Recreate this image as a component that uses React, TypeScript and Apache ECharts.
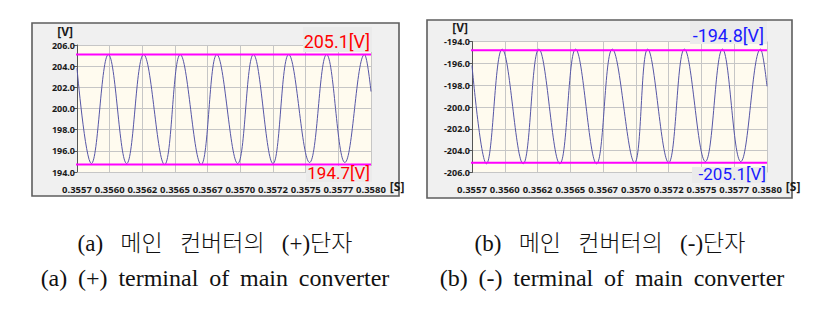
import { useEffect, useRef } from 'react';
import * as echarts from 'echarts';

// ---- data ----
const xTickLabels = ['0.3557', '0.3560', '0.3562', '0.3565', '0.3567', '0.3570', '0.3572', '0.3575', '0.3577', '0.3580'];
const X_MIN = 0.35575;
const X_MAX = 0.358;
const X_STEP = 0.00025;

// (+) terminal waveform: start, alternating troughs / peaks, end
const posTimes = [0.35575, 0.35586, 0.35599, 0.35613, 0.35626, 0.35642, 0.35654, 0.3567, 0.35682, 0.35698, 0.3571, 0.35725, 0.35737, 0.35753, 0.35766, 0.3578, 0.35795, 0.358];
const posVolts = [203.8, 194.8, 205.1, 194.8, 205.1, 194.7, 205.1, 194.7, 205.1, 194.8, 205.1, 194.8, 205.1, 194.9, 205.1, 194.9, 205.1, 201.6];

// (-) terminal waveform
const negTimes = [0.35575, 0.35586, 0.35598, 0.35614, 0.35626, 0.35642, 0.35654, 0.3567, 0.35682, 0.35699, 0.35709, 0.35725, 0.35737, 0.35753, 0.35766, 0.3578, 0.35795, 0.358];
const negVolts = [-196.2, -205.2, -194.7, -205.2, -194.7, -205.2, -194.7, -205.2, -194.7, -205.1, -194.7, -205.1, -194.7, -205.0, -194.7, -205.0, -194.7, -198.1];

const posLevels = [205.1, 194.7];
const negLevels = [-194.8, -205.1];
const posLevelLabels = ['205.1[V]', '194.7[V]'];
const negLevelLabels = ['-194.8[V]', '-205.1[V]'];
const LEVEL_LINE_START = 0.35556;

const posY = { min: 194, max: 206, step: 2 };
const negY = { min: -206, max: -194, step: 2 };

const captionsKo = ['(a) \u2002메인 \u2002컨버터의 \u2002(+)단자', '(b) \u2002메인 \u2002컨버터의 \u2002(-)단자'];
const captionsEn = [
  '(a) \u2009(+) \u2009terminal \u2009of \u2009main \u2009converter',
  '(b) \u2009(-) \u2009terminal \u2009of \u2009main \u2009converter',
];

const FONT = '"Noto Sans", Roboto, sans-serif';
const LABEL_FONT = 'Roboto, "Noto Sans", sans-serif';
const GRID_COLOR = '#c6c6c6';
const WAVE_COLOR = '#5656a6';
const LEVEL_COLOR = '#ff00ff';

const xFmt = (v: number) => xTickLabels[Math.round((v - X_MIN) / X_STEP)] ?? '';

function makeX(gridIndex: number) {
  return {
    type: 'value',
    gridIndex,
    min: X_MIN,
    max: X_MAX,
    interval: X_STEP,
    axisLine: { show: false, onZero: false },
    axisTick: { show: false },
    splitLine: { show: true, lineStyle: { color: GRID_COLOR, width: 1 } },
    axisLabel: {
      fontFamily: FONT,
      fontWeight: 'bold',
      fontSize: 9.5,
      color: '#1a1a1a',
      margin: 12,
      formatter: xFmt,
      showMinLabel: true,
      showMaxLabel: true,
      hideOverlap: false,
    },
    name: '[S]',
    nameLocation: 'end',
    nameGap: 10,
    nameTextStyle: {
      fontFamily: FONT,
      fontWeight: 'bold',
      fontSize: 12,
      color: '#1a1a1a',
      verticalAlign: 'top',
      padding: [8, 0, 0, 0],
    },
  };
}

function makeY(gridIndex: number, r: { min: number; max: number; step: number }) {
  return {
    type: 'value',
    gridIndex,
    min: r.min,
    max: r.max,
    interval: r.step,
    axisLine: { show: true, onZero: false, lineStyle: { color: '#555', width: 1 } },
    axisTick: { show: true, length: 3, lineStyle: { color: '#555' } },
    splitLine: { show: true, lineStyle: { color: GRID_COLOR, width: 1 } },
    axisLabel: {
      fontFamily: FONT,
      fontWeight: 'bold',
      fontSize: 9,
      color: '#1a1a1a',
      margin: 2,
      formatter: (v: number) => v.toFixed(1),
    },
    name: '[V]',
    nameLocation: 'end',
    nameGap: 8,
    nameTextStyle: {
      fontFamily: FONT,
      fontWeight: 'bold',
      fontSize: 12,
      color: '#1a1a1a',
      align: 'right',
      padding: [0, 4, 0, 0],
    },
  };
}

function levelSeries(levels: number[], idx: number) {
  return levels.map((v) => ({
    type: 'line',
    xAxisIndex: idx,
    yAxisIndex: idx,
    data: [
      [LEVEL_LINE_START, v],
      [X_MAX, v],
    ],
    symbol: 'none',
    clip: false,
    silent: true,
    z: 5,
    lineStyle: { color: LEVEL_COLOR, width: 2 },
  }));
}

function labelBox(text: string, box: number[], tx: number, ty: number, color: string, size: number) {
  return [
    {
      type: 'rect',
      z: 100,
      silent: true,
      shape: { x: box[0], y: box[1], width: box[2], height: box[3] },
      style: { fill: '#ebebeb' },
    },
    {
      type: 'text',
      z: 101,
      silent: true,
      x: tx,
      y: ty,
      style: {
        text,
        fill: color,
        font: `${size}px ${LABEL_FONT}`,
        align: 'right',
        textAlign: 'right',
        verticalAlign: 'middle',
        textVerticalAlign: 'middle',
      },
    },
  ];
}

function caption(text: string, x: number, y: number, size: number, weight: number) {
  return {
    type: 'text',
    z: 10,
    silent: true,
    x,
    y,
    style: {
      text,
      fill: '#111',
      font: `${weight} ${size}px "Liberation Serif", "Noto Sans CJK KR", serif`,
      align: 'center',
      textAlign: 'center',
      verticalAlign: 'middle',
      textVerticalAlign: 'middle',
    },
  };
}

export default function App() {
  const ref = useRef<HTMLDivElement>(null);

  useEffect(() => {
    if (!ref.current) return;
    const chart = echarts.init(ref.current, null, { renderer: 'svg' });

    const option: any = {
      animation: false,
      backgroundColor: '#ffffff',
      grid: [
        {
          left: 77, top: 45, width: 294, height: 127,
          show: true, backgroundColor: '#fffbef', borderWidth: 0,
          containLabel: false, outerBoundsMode: 'none',
        },
        {
          left: 472, top: 41.5, width: 295, height: 131,
          show: true, backgroundColor: '#fffbef', borderWidth: 0,
          containLabel: false, outerBoundsMode: 'none',
        },
      ],
      xAxis: [makeX(0), makeX(1)],
      yAxis: [makeY(0, posY), makeY(1, negY)],
      series: [
        {
          type: 'line',
          xAxisIndex: 0,
          yAxisIndex: 0,
          data: posTimes.map((t, i) => [t, posVolts[i]]),
          symbol: 'none',
          smooth: 0.4,
          z: 3,
          lineStyle: { color: WAVE_COLOR, width: 1 },
        },
        {
          type: 'line',
          xAxisIndex: 1,
          yAxisIndex: 1,
          data: negTimes.map((t, i) => [t, negVolts[i]]),
          symbol: 'none',
          smooth: 0.4,
          z: 3,
          lineStyle: { color: WAVE_COLOR, width: 1 },
        },
        ...levelSeries(posLevels, 0),
        ...levelSeries(negLevels, 1),
      ],
      graphic: [
        {
          type: 'rect', z: -10, silent: true,
          shape: { x: 32, y: 23, width: 367, height: 173 },
          style: { fill: '#f0f0f0', stroke: '#5e5e5e', lineWidth: 1.6 },
        },
        {
          type: 'rect', z: -10, silent: true,
          shape: { x: 427, y: 20, width: 365, height: 178 },
          style: { fill: '#f0f0f0', stroke: '#5e5e5e', lineWidth: 1.6 },
        },
        ...labelBox(posLevelLabels[0], [303, 27, 69, 25], 370, 41, '#ff0000', 18),
        ...labelBox(posLevelLabels[1], [306, 166, 66, 16], 370, 173, '#ff0000', 17),
        ...labelBox(negLevelLabels[0], [690, 21, 77, 23], 764, 35, '#1a1aff', 18),
        ...labelBox(negLevelLabels[1], [692, 167, 75, 16], 766, 174, '#1a1aff', 17),
        caption(captionsKo[0], 215, 243, 23, 300),
        caption(captionsEn[0], 215, 278, 24, 400),
        caption(captionsKo[1], 610, 243, 23, 300),
        caption(captionsEn[1], 612, 278, 24, 400),
      ],
    };

    chart.setOption(option);
    return () => chart.dispose();
  }, []);

  return (
    <div
      ref={ref}
      style={{ position: 'fixed', left: 0, top: 0, width: 819, height: 311 }}
    />
  );
}
